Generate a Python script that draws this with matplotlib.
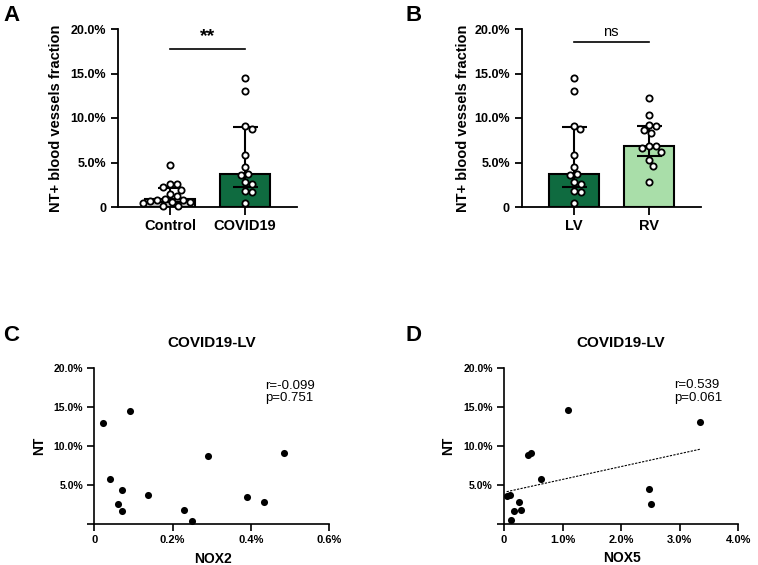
import numpy as np
import matplotlib
matplotlib.use("Agg")
import matplotlib.pyplot as plt

plt.rcParams['font.family'] = ['Liberation Sans', 'DejaVu Sans']

# ---------------- data ----------------
control_vals = [4.75, 2.6, 2.6, 2.2, 1.9, 1.5, 1.2, 0.9, 0.8, 0.75, 0.7, 0.6, 0.6, 0.4, 0.15, 0.1]
covid_lv_vals = [13.05, 14.55, 5.8, 4.45, 2.6, 1.65, 3.7, 1.85, 0.45, 8.8, 3.55, 2.85, 9.1]
rv_vals = [12.25, 10.35, 9.2, 8.6, 9.1, 8.3, 6.9, 6.85, 6.6, 6.2, 5.25, 4.6, 2.85]
nox2_vals = [0.022, 0.090, 0.040, 0.070, 0.060, 0.070, 0.136, 0.229, 0.250, 0.291, 0.391, 0.432, 0.485]
nox5_vals = [3.35, 1.10, 0.64, 2.47, 2.51, 0.17, 0.11, 0.285, 0.12, 0.415, 0.045, 0.26, 0.46]

cats_A = ["Control", "COVID19"]
cats_B = ["LV", "RV"]
sig_A = "**"
sig_B = "ns"
stats_C = "r=-0.099\np=0.751"
stats_D = "r=0.539\np=0.061"
title_CD = "COVID19-LV"

y_ticks = [0, 5, 10, 15, 20]
y_ticklabels = ["0", "5.0%", "10.0%", "15.0%", "20.0%"]
nox2_ticks = [0, 0.2, 0.4, 0.6]
nox2_ticklabels = ["0", "0.2%", "0.4%", "0.6%"]
nox5_ticks = [0, 1, 2, 3, 4]
nox5_ticklabels = ["0", "1.0%", "2.0%", "3.0%", "4.0%"]

GRAY = "#bfbfbf"
DKGREEN = "#0f6b40"
LTGREEN = "#a9dea9"

W, H = 758, 565
fig = plt.figure(figsize=(W / 100, H / 100), dpi=100)


def px_axes(l, t, r, b):
    return fig.add_axes([l / W, 1 - b / H, (r - l) / W, (b - t) / H])


def style_axes(ax, lw=1.3):
    for s in ("top", "right"):
        ax.spines[s].set_visible(False)
    for s in ("left", "bottom"):
        ax.spines[s].set_linewidth(lw)
    ax.tick_params(width=lw, length=5, direction="out")


def swarm_x(ax, xc, vals, d_px):
    trans = ax.transData
    ppu = trans.transform((1, 0))[0] - trans.transform((0, 0))[0]
    placed = []
    xs = np.zeros(len(vals))
    order = np.argsort(vals)[::-1]
    for i in order:
        y = trans.transform((xc, vals[i]))[1]
        cands = [0.0]
        for (px, py) in placed:
            dy = abs(py - y)
            if dy < d_px:
                dx = np.sqrt(d_px ** 2 - dy ** 2)
                cands += [px + dx, px - dx]
        cands = sorted(cands, key=lambda c: (abs(c), -c))
        for c in cands:
            ok = True
            for (px, py) in placed:
                if (px - c) ** 2 + (py - y) ** 2 < d_px ** 2 - 1e-6:
                    ok = False
                    break
            if ok:
                placed.append((c, y))
                xs[i] = xc + c / ppu
                break
    return xs


def bar_panel(ax, groups, colors, cats, sig, sig_y, sig_fs, sig_bold):
    style_axes(ax)
    ax.set_xlim(-0.69, 1.69)
    ax.set_ylim(0, 20)
    ax.set_yticks(y_ticks)
    ax.set_yticklabels(y_ticklabels, fontsize=9, fontweight="bold")
    ax.set_xticks([0, 1])
    ax.set_xticklabels(cats, fontsize=10.5, fontweight="bold")
    ax.tick_params(axis="x", length=6, pad=3)
    for i, (vals, col) in enumerate(zip(groups, colors)):
        v = np.array(vals)
        med = np.median(v)
        q1, q3 = np.percentile(v, [25, 75], method="weibull")
        ax.bar(i, med, width=0.667, color=col, edgecolor="black", linewidth=1.5, zorder=2)
        ax.errorbar(i, med, yerr=[[med - q1], [q3 - med]], fmt="none", ecolor="black",
                    elinewidth=1.5, capsize=9, capthick=1.5, zorder=3)
        xs = swarm_x(ax, i, v, 7.4)
        ax.plot(xs, v, "o", ms=4.5, mfc="white", mec="black", mew=1.3, zorder=4,
                clip_on=False, linestyle="none")
    ax.plot([0, 1], [sig_y, sig_y], color="black", lw=1.2, clip_on=False)
    ax.text(0.5, sig_y + 0.35, sig, ha="center", va="bottom", fontsize=sig_fs,
            fontweight="bold" if sig_bold else "normal", clip_on=False)


# ---------------- Panel A ----------------
axA = px_axes(118, 29, 297, 207)
bar_panel(axA, [control_vals, covid_lv_vals], [GRAY, DKGREEN], cats_A, sig_A, 17.8, 14, True)
axA.set_ylabel("NT+ blood vessels fraction", fontsize=10.5, fontweight="bold")
axA.yaxis.set_label_coords(-0.31, 0.5)

# ---------------- Panel B ----------------
axB = px_axes(521.7, 29, 700.7, 207)
bar_panel(axB, [covid_lv_vals, rv_vals], [DKGREEN, LTGREEN], cats_B, sig_B, 18.5, 10.5, False)
axB.set_ylabel("NT+ blood vessels fraction", fontsize=10.5, fontweight="bold")
axB.yaxis.set_label_coords(-0.29, 0.5)


def scatter_panel(ax, xv, yv, xticks, xticklabels, xlabel, stats, fit=False):
    style_axes(ax, lw=1.2)
    ax.set_xlim(xticks[0], xticks[-1])
    ax.set_ylim(0, 20)
    ax.set_yticks(y_ticks)
    ax.set_yticklabels([""] + y_ticklabels[1:], fontsize=7.5, fontweight="bold")
    ax.set_xticks(xticks)
    ax.set_xticklabels(xticklabels, fontsize=8, fontweight="bold")
    ax.tick_params(length=5, pad=3)
    ax.scatter(xv, yv, s=26, color="black", zorder=3, clip_on=False, linewidths=0)
    if fit:
        k, b = np.polyfit(xv, yv, 1)
        xx = np.array([min(xv), max(xv)])
        ax.plot(xx, k * xx + b, linestyle=(0, (2.0, 1.2)), color="black", lw=0.8, zorder=2)
    ax.set_ylabel("NT", fontsize=10, fontweight="bold")
    ax.set_xlabel(xlabel, fontsize=10, fontweight="bold")
    ax.xaxis.set_label_coords(0.505, -0.175)
    ax.text(0.5, 1.16, title_CD, transform=ax.transAxes, ha="center", va="center",
            fontsize=11, fontweight="bold")
    ax.text(0.728, 0.925, stats, transform=ax.transAxes, ha="left", va="top",
            fontsize=9.5, linespacing=1.05)


# ---------------- Panel C ----------------
axC = px_axes(94.3, 368.3, 329.3, 524.3)
scatter_panel(axC, nox2_vals, covid_lv_vals, nox2_ticks, nox2_ticklabels, "NOX2", stats_C)
axC.yaxis.set_label_coords(-0.205, 0.5)

# ---------------- Panel D ----------------
axD = px_axes(504, 367.7, 738.3, 524)
scatter_panel(axD, nox5_vals, covid_lv_vals, nox5_ticks, nox5_ticklabels, "NOX5", stats_D, fit=True)
axD.yaxis.set_label_coords(-0.209, 0.5)

# ---------------- panel letters ----------------
for letter, x, y in [("A", 3, 5), ("B", 405, 5), ("C", 3, 325), ("D", 405, 325)]:
    fig.text(x / W, 1 - y / H, letter, fontsize=16, fontweight="bold", ha="left", va="top")

fig.savefig("out.png", dpi=100)
